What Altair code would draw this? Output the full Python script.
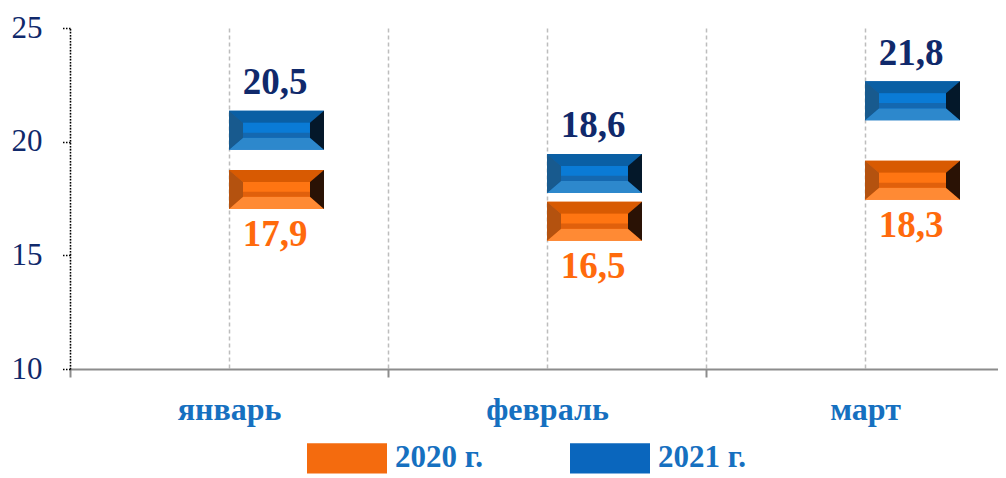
import altair as alt
import pandas as pd

months = ["январь", "февраль", "март"]
series = ["2020 г.", "2021 г."]
v2020 = [17.9, 16.5, 18.3]
v2021 = [20.5, 18.6, 21.8]

rows = []
for i, m in enumerate(months):
    for s, vals in zip(series, [v2020, v2021]):
        v = vals[i]
        rows.append({"month": m, "pos": i + 0.5, "series": s, "value": v,
                     "label": f"{v:.1f}".replace(".", ",")})
df = pd.DataFrame(rows)

PLOT_W = 928
PLOT_H = 341
BAND = 318
FONT = "Liberation Serif"

NAVY = "#10296b"
ORANGE_TXT = "#ff6a0c"
XLAB = "#1670c0"

# bevel palettes
PAL = {
    "2020 г.": dict(base="#f46b0e", top="#d85a02", bottom="#ff8a34", left="#b4520f",
                    right="#2a1205", center="#ff7512", line="#e0600c"),
    "2021 г.": dict(base="#0a66bd", top="#0a5fa4", bottom="#2d88cc", left="#185a8e",
                    right="#04182a", center="#0a7bd6", line="#1468b0"),
}


def poly(pts):
    return "M" + "L".join(f"{x},{y}" for x, y in pts) + "Z"


H, IX, IY = 0.41, 0.705, 0.157
SHAPES = {
    "base": poly([(-1, -H), (1, -H), (1, H), (-1, H)]),
    "top": poly([(-1, -H), (1, -H), (IX, -IY), (-IX, -IY)]),
    "bottom": poly([(-1, H), (1, H), (IX, IY), (-IX, IY)]),
    "left": poly([(-1, -H), (-IX, -IY), (-IX, IY), (-1, H)]),
    "right": poly([(1, -H), (IX, -IY), (IX, IY), (1, H)]),
    "center": poly([(-IX, -IY), (IX, -IY), (IX, IY), (-IX, IY)]),
    "line": poly([(-IX, 0.05), (IX, 0.05), (IX, IY), (-IX, IY)]),
}
BOX_SIZE = 95 ** 2
X_OFF = 47.5

labels_expr = " : ".join(f"datum.value == {i + 0.5} ? '{m}'" for i, m in enumerate(months)) + " : ''"

x_enc = alt.X(
    "pos:Q",
    scale=alt.Scale(domain=[0, PLOT_W / BAND], nice=False, zero=False),
    axis=alt.Axis(
        title=None,
        values=[0, 0.5, 1, 1.5, 2, 2.5],
        labelExpr=labels_expr,
        labelFlush=False,
        labelOverlap=False,
        labelFont=FONT, labelFontSize=32, labelFontWeight="bold", labelColor=XLAB,
        labelBaseline="middle", labelPadding=32,
        domainColor="#8c8c8c", domainWidth=2,
        tickColor="#8c8c8c", tickWidth=2, tickSize=8,
        tickOpacity={"condition": {"test": "datum.value % 1 == 0", "value": 1}, "value": 0},
        grid=True, gridColor="#bdbdbd", gridDash=[4, 3], gridWidth=1.5,
    ),
)
y_enc = alt.Y(
    "value:Q",
    scale=alt.Scale(domain=[10, 25], nice=False, zero=False),
    axis=alt.Axis(
        title=None, values=[10, 15, 20, 25], grid=False,
        labelFont=FONT, labelFontSize=31, labelColor=NAVY, labelPadding=20,
        domainColor="#000000", domainDash=[1.5, 1.5], domainWidth=1.5,
        tickColor="#000000", tickDash=[1.5, 1.5], tickWidth=1.5, tickSize=8,
    ),
)

base = alt.Chart(df).encode(x=x_enc, y=y_enc)

legend_rect = poly([(-1, -0.38), (1, -0.38), (1, 0.38), (-1, 0.38)])

layers = [
    base.mark_point(shape=SHAPES["base"], size=BOX_SIZE, filled=True, opacity=1,
                    strokeWidth=0, xOffset=X_OFF).encode(
        fill=alt.Fill(
            "series:N",
            scale=alt.Scale(domain=series, range=[PAL[s]["base"] for s in series]),
            legend=alt.Legend(
                title=None, orient="none", legendX=237, legendY=390,
                direction="horizontal", symbolType=legend_rect, symbolSize=6400,
                symbolStrokeWidth=0, symbolOpacity=1,
                labelFont=FONT, labelFontSize=31, labelFontWeight="bold",
                labelColor=XLAB, labelOffset=8, columnPadding=86, padding=0,
            ),
        )
    )
]

for s in series:
    sub = base.transform_filter(alt.datum.series == s)
    for piece in ["top", "bottom", "left", "right", "center", "line"]:
        layers.append(
            sub.mark_point(shape=SHAPES[piece], size=BOX_SIZE, filled=True, opacity=1,
                           strokeWidth=0, xOffset=X_OFF).encode(
                fill=alt.value(PAL[s][piece]))
        )

layers.append(
    base.transform_filter(alt.datum.series == series[1]).mark_text(
        font=FONT, fontSize=37, fontWeight="bold", color=NAVY,
        baseline="alphabetic", align="center", dy=-36, xOffset=46,
    ).encode(text="label:N")
)
layers.append(
    base.transform_filter(alt.datum.series == series[0]).mark_text(
        font=FONT, fontSize=37, fontWeight="bold", color=ORANGE_TXT,
        baseline="alphabetic", align="center", dy=57, xOffset=46,
    ).encode(text="label:N")
)

chart = alt.layer(*layers).properties(
    width=PLOT_W, height=PLOT_H,
    autosize=alt.AutoSizeParams(type="none"),
    padding={"left": 62, "top": 20, "right": 0, "bottom": 106},
    background="white",
).configure_view(stroke=None)

chart.save("out.html", embed_options={"renderer": "svg", "actions": False})
